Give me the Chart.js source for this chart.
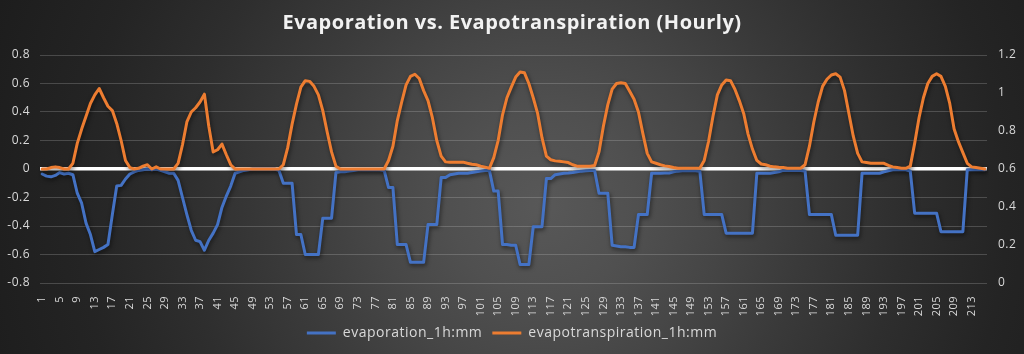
<!DOCTYPE html>
<html lang="en">
<head>
    <meta charset="UTF-8">
    <title>Evaporation vs. Evapotranspiration (Hourly)</title>
    <script src="https://cdn.jsdelivr.net/npm/chart.js"></script>
    <style>
        html, body { margin: 0; padding: 0; }
        body {
            width: 1024px;
            height: 354px;
            overflow: hidden;
            background: radial-gradient(circle at 53% 58%, #585858 0%, #505050 16%, #464646 30%, #3a3a3a 45%, #2e2e2e 62%, #242424 80%, #1d1d1d 100%);
        }
        #chart { display: block; }
    </style>
</head>
<body>
    <canvas id="chart" width="1024" height="354"></canvas>

    <script>
        // hour index 1..216 (9 days)
        const hours = Array.from({ length: 216 }, (_, i) => i + 1);

        // evaporation_1h:mm (left axis), one row per day
        const evaporation = [
            -0.035, -0.05, -0.055, -0.045, -0.025, -0.035, -0.03, -0.04, -0.17, -0.24, -0.38, -0.46, -0.58, -0.565, -0.55, -0.53, -0.32, -0.12, -0.115, -0.07, -0.035, -0.02, -0.01, -0.005,
            0, -0.005, 0, -0.01, -0.02, -0.03, -0.03, -0.08, -0.2, -0.32, -0.43, -0.5, -0.51, -0.57, -0.5, -0.45, -0.39, -0.27, -0.19, -0.12, -0.03, -0.02, -0.01, -0.005,
            0, 0, 0, 0, 0, 0, -0.01, -0.1, -0.1, -0.1, -0.46, -0.46, -0.6, -0.6, -0.6, -0.6, -0.345, -0.345, -0.345, -0.025, -0.02, -0.02, -0.015, -0.01,
            -0.005, -0.005, -0.005, -0.005, -0.005, -0.005, -0.01, -0.13, -0.13, -0.53, -0.53, -0.53, -0.655, -0.655, -0.655, -0.655, -0.39, -0.39, -0.39, -0.06, -0.06, -0.04, -0.035, -0.03,
            -0.03, -0.03, -0.025, -0.02, -0.015, -0.01, -0.01, -0.155, -0.155, -0.53, -0.53, -0.535, -0.535, -0.67, -0.67, -0.67, -0.405, -0.405, -0.405, -0.067, -0.067, -0.04, -0.035, -0.03,
            -0.028, -0.025, -0.02, -0.015, -0.012, -0.01, -0.01, -0.17, -0.17, -0.17, -0.535, -0.54, -0.545, -0.545, -0.55, -0.55, -0.32, -0.32, -0.32, -0.03, -0.03, -0.03, -0.028, -0.028,
            -0.02, -0.015, -0.012, -0.012, -0.012, -0.012, -0.015, -0.32, -0.32, -0.32, -0.32, -0.32, -0.45, -0.45, -0.45, -0.45, -0.45, -0.45, -0.45, -0.03, -0.03, -0.03, -0.03, -0.025,
            -0.02, -0.01, -0.01, -0.01, -0.01, -0.01, -0.015, -0.32, -0.32, -0.32, -0.32, -0.32, -0.32, -0.465, -0.465, -0.465, -0.465, -0.465, -0.465, -0.03, -0.03, -0.03, -0.03, -0.03,
            -0.02, -0.012, -0.005, -0.005, -0.005, -0.005, -0.015, -0.31, -0.31, -0.31, -0.31, -0.31, -0.31, -0.44, -0.44, -0.44, -0.44, -0.44, -0.44, -0.005, -0.005, -0.005, -0.005, -0.005
        ];

        // evapotranspiration_1h:mm, one row per day
        const evapotranspiration = [
            0, 0, 0.01, 0.015, 0.01, 0, 0, 0.04, 0.18, 0.28, 0.37, 0.46, 0.52, 0.565, 0.5, 0.44, 0.41, 0.32, 0.2, 0.06, 0.01, 0, 0.005, 0.02,
            0.03, 0, 0.015, 0, 0, 0, 0, 0.04, 0.17, 0.33, 0.4, 0.43, 0.47, 0.525, 0.3, 0.12, 0.135, 0.175, 0.1, 0.03, 0, 0, 0, 0,
            0, 0, 0, 0, 0, 0, 0, 0.03, 0.15, 0.315, 0.455, 0.575, 0.62, 0.615, 0.58, 0.52, 0.41, 0.26, 0.12, 0.02, 0, 0, 0, 0,
            0, 0, 0, 0, 0, 0, 0, 0.06, 0.16, 0.34, 0.47, 0.59, 0.65, 0.665, 0.635, 0.55, 0.48, 0.36, 0.2, 0.09, 0.05, 0.048, 0.048, 0.048,
            0.048, 0.04, 0.033, 0.03, 0.02, 0.013, 0.005, 0.08, 0.2, 0.38, 0.5, 0.575, 0.645, 0.68, 0.675, 0.6, 0.5, 0.39, 0.22, 0.09, 0.065, 0.057, 0.055, 0.05,
            0.045, 0.03, 0.02, 0.02, 0.02, 0.02, 0.025, 0.12, 0.3, 0.45, 0.56, 0.6, 0.605, 0.6, 0.545, 0.49, 0.4, 0.25, 0.11, 0.05, 0.04, 0.03, 0.022, 0.018,
            0.01, 0.005, 0.005, 0.005, 0.005, 0.005, 0.005, 0.06, 0.195, 0.37, 0.52, 0.59, 0.625, 0.62, 0.56, 0.48, 0.39, 0.245, 0.14, 0.06, 0.035, 0.03, 0.02, 0.015,
            0.012, 0.01, 0.005, 0.005, 0.005, 0.005, 0.03, 0.16, 0.33, 0.47, 0.58, 0.63, 0.66, 0.668, 0.645, 0.55, 0.39, 0.23, 0.11, 0.05, 0.045, 0.04, 0.04, 0.04,
            0.04, 0.025, 0.015, 0.01, 0.005, 0.005, 0.02, 0.18, 0.36, 0.5, 0.6, 0.65, 0.668, 0.65, 0.58, 0.46, 0.28, 0.19, 0.115, 0.04, 0.015, 0.01, 0.005, 0
        ];

        const leftRange = [-0.8, 0.8];
        const rightRange = [0, 1.2];

        const BLUE = '#4472c4';
        const ORANGE = '#ed7d31';
        const LABEL = '#d9d9d9';
        const FONT = "'Open Sans', sans-serif";

        // a little letter spacing on all text, closer to the Excel look
        const spacing = {
            id: 'spacing',
            beforeUpdate(chart) { chart.ctx.letterSpacing = '0.5px'; },
            beforeDraw(chart) { chart.ctx.letterSpacing = '0.5px'; }
        };

        // soft dark shadow under the series lines
        const lineShadow = {
            id: 'lineShadow',
            beforeDatasetDraw(chart) {
                const ctx = chart.ctx;
                ctx.save();
                ctx.shadowColor = 'rgba(0, 0, 0, 0.55)';
                ctx.shadowBlur = 4;
                ctx.shadowOffsetX = 1;
                ctx.shadowOffsetY = 2;
            },
            afterDatasetDraw(chart) {
                chart.ctx.restore();
            }
        };

        new Chart(document.getElementById('chart'), {
            type: 'line',
            data: {
                labels: hours,
                datasets: [
                    {
                        label: 'evaporation_1h:mm',
                        data: evaporation,
                        borderColor: BLUE,
                        backgroundColor: BLUE,
                        borderWidth: 3,
                        pointRadius: 0,
                        borderJoinStyle: 'round',
                        borderCapStyle: 'round',
                        yAxisID: 'y',
                        order: 1
                    },
                    {
                        label: 'evapotranspiration_1h:mm',
                        data: evapotranspiration,
                        borderColor: ORANGE,
                        backgroundColor: ORANGE,
                        borderWidth: 3,
                        pointRadius: 0,
                        borderJoinStyle: 'round',
                        borderCapStyle: 'round',
                        yAxisID: 'y',
                        order: 0
                    }
                ]
            },
            options: {
                responsive: false,
                animation: false,
                layout: { padding: { left: 0, right: 0, top: 0, bottom: 4 } },
                plugins: {
                    title: {
                        display: true,
                        text: 'Evaporation vs. Evapotranspiration (Hourly)',
                        color: '#f2f2f2',
                        font: { family: FONT, size: 20, weight: 'bold' },
                        padding: { top: 11, bottom: 20 }
                    },
                    legend: {
                        position: 'bottom',
                        labels: {
                            color: LABEL,
                            font: { family: FONT, size: 14 },
                            boxWidth: 29,
                            boxHeight: 3,
                            padding: 10,
                            sort: (a, b) => a.datasetIndex - b.datasetIndex,
                            generateLabels(chart) {
                                return Chart.defaults.plugins.legend.labels.generateLabels(chart)
                                    .map(l => Object.assign(l, { lineWidth: 0 }));
                            }
                        }
                    },
                    tooltip: { enabled: false }
                },
                scales: {
                    x: {
                        offset: true,
                        grid: { display: false },
                        border: { display: false },
                        ticks: {
                            color: LABEL,
                            font: { family: FONT, size: 11 },
                            autoSkip: false,
                            minRotation: 90,
                            maxRotation: 90,
                            padding: 5,
                            callback: (v, i) => (i % 4 === 0 ? hours[i] : null)
                        },
                        afterFit: s => { s.height = 33; }
                    },
                    y: {
                        position: 'left',
                        min: leftRange[0],
                        max: leftRange[1],
                        border: { display: false },
                        grid: {
                            drawTicks: false,
                            color: c => (c.tick.value === 0 ? '#ffffff' : 'rgba(217, 217, 217, 0.22)'),
                            lineWidth: c => (c.tick.value === 0 ? 3.5 : 1)
                        },
                        ticks: {
                            stepSize: 0.2,
                            color: LABEL,
                            font: { family: FONT, size: 12 },
                            padding: 10,
                            callback: v => String(+v.toFixed(1))
                        },
                        afterFit: s => { s.width = 40; }
                    },
                    y1: {
                        position: 'right',
                        min: rightRange[0],
                        max: rightRange[1],
                        border: { display: false },
                        grid: { drawOnChartArea: false, drawTicks: false },
                        ticks: {
                            stepSize: 0.2,
                            color: LABEL,
                            font: { family: FONT, size: 12 },
                            padding: 11,
                            callback: v => String(+v.toFixed(1))
                        },
                        afterFit: s => { s.width = 37; }
                    }
                }
            },
            plugins: [spacing, lineShadow]
        });
    </script>
</body>
</html>
